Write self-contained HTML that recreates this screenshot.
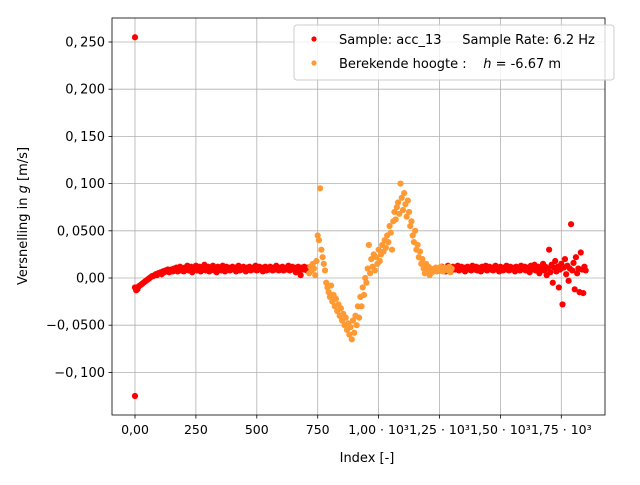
<!DOCTYPE html>
<html><head><meta charset="utf-8"><style>
body{margin:0;background:#fff;width:640px;height:480px;overflow:hidden}
svg{font-family:"DejaVu Sans","Liberation Sans",sans-serif;font-size:13px}
</style></head><body>
<svg id="chart" width="640" height="480"></svg>
<script>
// values in units of 1e-3 g
const red1Start = 0;
const red1Vals = [-10,-13,-12,-9,-8,-7,-6,-5,-4,-3,-2,-1,0,1,2,2,3,4,3,5,5,6,4,7,6,8,7,9,6,8,9,7,10,8,11,7,9,12,8,10,7,11,9,13,8,10,12,6,11,9,13,8,10,12,7,11,9,14,8,10,12,7,11,9,13,8,10,6,12,9,11,8,13,10,7,12,9,11,8,10,12,9,11,7,10,13,8,11,9,12,10,7,11,9,12,8,10,11,9,13,8,10,12,9,11,7,10,12,8,11,9,12,10,8,11,9,13,10,8,11,9,12,8,10,11,9,13,8,10,12,9,11,6,10,12,8,3,11,9,12,10,8,11,9,12];
const red2Start = 1250;
const red2Vals = [10,8,12,9,11,7,10,13,9,11,8,12,10,9,11,13,8,10,12,9,11,7,10,12,9,11,8,13,10,9,12,8,11,10,7,12,9,11,13,8,10,12,9,11,8,10,13,9,11,7,12,10,8,11,9,13,10,8,12,9,11,10,7,12,9,11,8,13,10,9,12,8,11,10,6,13,9,11,14,8,10,12,5,11,9,15,8,12,3,10,30,6,14,-5,11,18,7,12,-10,9,15,-28,11,20,4,13,-3,10,57,8,16,-12,22,5,10,-15,27,9,-16,12,8];
const redOutlierIdx = [0,0];
const redOutlierVals = [255,-125];
const orangeStart = 715;
const orangeVals = [5,12,8,15,10,3,18,45,40,95,30,22,15,8,-5,-10,-15,-20,-8,-25,-18,-30,-22,-35,-28,-40,-32,-45,-38,-50,-42,-55,-48,-60,-52,-65,-45,-58,-40,-50,-30,-42,-20,-30,-10,-18,0,-5,10,35,5,20,12,25,8,22,15,30,18,25,35,28,40,32,45,38,55,48,30,60,70,62,75,80,68,100,85,72,90,78,65,82,70,55,60,45,38,50,30,35,22,28,15,20,10,5,15,8,12,3,10,6,9,8,11,7,10,9,12,8,7,11,9,10,8,12,6,10];
const step = 5;
const yTickVals = [0.25,0.2,0.15,0.1,0.05,0,-0.05,-0.1];
const yTickLabels = ["0,\u2009250","0,\u2009200","0,\u2009150","0,\u2009100","0,\u20090500","0,00","\u22120,\u20090500","\u22120,\u2009100"];
const xTickVals = [0,250,500,750,1000,1250,1500,1750];
const xTickLabels = ["0,00","250","500","750","1,00 \u00b7 10\u00b3","1,25 \u00b7 10\u00b3","1,50 \u00b7 10\u00b3","1,75 \u00b7 10\u00b3"];

const L=112,R=605,T=18,B=415;
const xs=v=>135+v*0.2436;
const ys=v=>278-v*944;
const svg=document.getElementById('chart');
const NS='http://www.w3.org/2000/svg';
function mk(t,a,p){const e=document.createElementNS(NS,t);for(const k in a)e.setAttribute(k,a[k]);(p||svg).appendChild(e);return e;}

const grid=mk('g',{});


yTickVals.forEach((v,i)=>{
  const y=ys(v);
  mk('line',{x1:L,x2:R,y1:y,y2:y,stroke:'#b0b0b0','stroke-width':0.8},grid);
  mk('line',{x1:L-3.5,x2:L,y1:y,y2:y,stroke:'#000','stroke-width':0.8});
  const t=mk('text',{x:L-7,y:y+4.5,'text-anchor':'end'});t.textContent=yTickLabels[i];
  
  
});
xTickVals.forEach((v,i)=>{
  const x=xs(v);
  mk('line',{x1:x,x2:x,y1:T,y2:B,stroke:'#b0b0b0','stroke-width':0.8},grid);
  mk('line',{x1:x,x2:x,y1:B,y2:B+3.5,stroke:'#000','stroke-width':0.8});
  const t=mk('text',{x:x,y:B+19,'text-anchor':'middle','font-size':'12.5'});t.textContent=xTickLabels[i];
  
  
});

const pts=mk('g',{});


function dot(i,v,c,g){const d=mk('circle',{cx:xs(i),cy:ys(v/1000),r:3.1,fill:c},g);
  
  }
red1Vals.forEach((v,k)=>dot(red1Start+k*step,v,'#ff0000',pts));
red2Vals.forEach((v,k)=>dot(red2Start+k*step,v,'#ff0000',pts));
redOutlierVals.forEach((v,k)=>dot(redOutlierIdx[k],v,'#ff0000',pts));
const po=mk('g',{});


orangeVals.forEach((v,k)=>dot(orangeStart+k*step,v,'#ff9933',po));

mk('rect',{x:L,y:T,width:R-L,height:B-T,fill:'none',stroke:'#000','stroke-width':0.8});
</script>
<svg width="640" height="480" style="position:absolute;left:0;top:0" font-family="DejaVu Sans, Liberation Sans, sans-serif" font-size="13">
<text x="367" y="462" text-anchor="middle">Index [-]</text>
<text transform="translate(27,216) rotate(-90)" text-anchor="middle">Versnelling in <tspan font-style="italic">g</tspan> [m/s]</text>
<g>
<rect x="294" y="25" width="320" height="55" rx="3" fill="#fff" fill-opacity="0.8" stroke="#ccc"/>
<circle cx="314" cy="39" r="2.6" fill="#ff0000"/>
<text x="339" y="44" style="white-space:pre">Sample: acc_13     Sample Rate: 6.2 Hz</text>
<circle cx="314" cy="63" r="2.6" fill="#ff9933"/>
<text x="339" y="68" style="white-space:pre">Berekende hoogte :    <tspan font-style="italic">h</tspan> = -6.67 m</text>
</g>
</svg>
</body></html>
